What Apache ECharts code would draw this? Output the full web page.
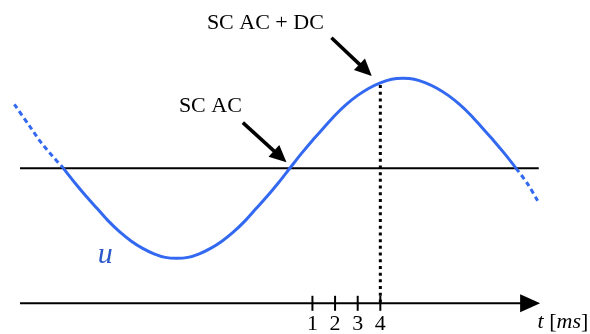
<!DOCTYPE html>
<html>
<head>
<meta charset="utf-8">
<script src="https://cdn.jsdelivr.net/npm/echarts@6/dist/echarts.min.js"></script>
<style>
  html, body { margin: 0; background: #fff; }
  #chart { width: 590px; height: 334px; }
</style>
</head>
<body>
<div id="chart"></div>
<script>
// wave u(t), t in ms
var waveT = [-12.17, -11.5, -11, -10.5, -10, -9.5, -9, -8.5, -8, -7.5, -7, -6.5, -6, -5.5, -5, -4.5, -4, -3.5, -3, -2.5, -2, -1.5, -1, -0.5,
             0, 0.5, 1, 1.5, 2, 2.5, 3, 3.5, 4, 4.5, 5, 5.5, 6, 6.5, 7, 7.5, 8, 8.5, 9, 9.5, 10, 10.5, 10.95];
var waveU = [0.71, 0.47, 0.29, 0.14, 0, -0.16, -0.31, -0.45, -0.59, -0.71, -0.81, -0.89, -0.95, -0.99, -1.0, -0.99, -0.95, -0.89, -0.81, -0.71, -0.59, -0.45, -0.31, -0.16,
             0, 0.16, 0.31, 0.45, 0.59, 0.71, 0.81, 0.89, 0.95, 0.99, 1.0, 0.99, 0.95, 0.89, 0.81, 0.71, 0.59, 0.45, 0.31, 0.16, 0, -0.17, -0.36];
var solidFrom = -10, solidTo = 10;

var tickValues = [1, 2, 3, 4];
var tickLabels = ['1', '2', '3', '4'];

var zeroLineT = [-11.92, 11.0];
var timeAxisT = [-11.92, 10.62];   // last one = centre of arrow head
var timeAxisU = -1.5;
var markerT = 4, markerTopU = 0.925;

// annotations: [start, arrow head centre]
var notes = [
  { text: 'SC AC + DC', at: [-1.08, 1.611], from: [1.84, 1.451], to: [3.35, 1.091] },
  { text: 'SC AC', at: [-3.51, 0.692], from: [-2.075, 0.507], to: [-0.424, 0.13] }
];
var waveName = 'u', waveNameAt = [-8.15, -0.96];
var axisTitleAt = [10.95, -1.708];

var blue = '#3269f0';
var ink = '#000';
var serif = 'Liberation Serif';

function pick(lo, hi) {
  var out = [];
  for (var i = 0; i < waveT.length; i++) {
    if (waveT[i] >= lo && waveT[i] <= hi) out.push([waveT[i], waveU[i]]);
  }
  return out;
}

var chart = echarts.init(document.getElementById('chart'));
var series = [];

// zero line
series.push({
  type: 'line', data: [[zeroLineT[0], 0], [zeroLineT[1], 0]], symbol: 'none', clip: false,
  lineStyle: { color: ink, width: 2 }, z: 1
});
// time axis
series.push({
  type: 'line', data: [[timeAxisT[0], timeAxisU], [timeAxisT[1], timeAxisU]], symbol: 'none', clip: false,
  lineStyle: { color: ink, width: 2 }, z: 1
});
series.push({
  type: 'scatter', data: [[timeAxisT[1], timeAxisU]], symbol: 'triangle', symbolSize: [18, 20],
  symbolRotate: -90, itemStyle: { color: ink, opacity: 1 }, clip: false, z: 2
});
// ticks with labels
series.push({
  type: 'scatter', data: tickValues.map(function (v) { return [v, timeAxisU]; }),
  symbol: 'rect', symbolSize: [2, 15], itemStyle: { color: ink, opacity: 1 }, clip: false, z: 2,
  label: {
    show: true, position: 'bottom', distance: 2,
    formatter: function (p) { return tickLabels[p.dataIndex]; },
    fontFamily: serif, fontSize: 22, color: ink
  }
});
// dotted marker at t = 4
series.push({
  type: 'line', data: [[markerT, markerTopU], [markerT, timeAxisU]], symbol: 'none', clip: false,
  lineStyle: { color: ink, width: 3, type: [3, 3.7] }, z: 1
});
// wave (smooth 1/3 ~ catmull-rom tangents)
var waveLine = { type: 'line', smooth: 0.33, symbol: 'none', clip: false, z: 3 };
series.push(Object.assign({}, waveLine, {
  data: pick(solidFrom, solidTo), lineStyle: { color: blue, width: 3 }
}));
series.push(Object.assign({}, waveLine, {
  data: pick(-99, solidFrom), lineStyle: { color: blue, width: 3, type: [5, 3.5] }
}));
series.push(Object.assign({}, waveLine, {
  data: pick(solidTo, 99), lineStyle: { color: blue, width: 3, type: [5, 3.5] }
}));

// annotation texts + arrows
series.push({
  type: 'scatter', clip: false, symbolSize: 1, itemStyle: { color: 'transparent', opacity: 1 },
  data: notes.map(function (n) { return { value: n.at, name: n.text }; }),
  label: {
    show: true, position: 'inside', formatter: '{b}',
    fontFamily: serif, fontSize: 22, color: ink
  },
  markLine: {
    silent: true, symbol: ['none', 'triangle'], symbolSize: [16, 17],
    label: { show: false },
    lineStyle: { color: ink, width: 3.5, type: 'solid', opacity: 1 },
    itemStyle: { color: ink, opacity: 1 },
    data: notes.map(function (n) { return [{ coord: n.from }, { coord: n.to }]; })
  },
  z: 4
});
// u label and axis title
series.push({
  type: 'scatter', clip: false, symbolSize: 1, itemStyle: { color: 'transparent', opacity: 1 },
  data: [{ value: waveNameAt, name: waveName }],
  label: {
    show: true, position: 'inside', formatter: '{b}',
    fontFamily: serif, fontStyle: 'italic', fontSize: 30, color: '#2b58c8'
  }, z: 4
});
series.push({
  type: 'scatter', clip: false, symbolSize: 1, itemStyle: { color: 'transparent', opacity: 1 },
  data: [{ value: axisTitleAt, name: 't' }],
  label: {
    show: true, position: 'inside', align: 'left', formatter: '{i|t} [{i|ms}]',
    fontFamily: serif, fontSize: 22, color: ink,
    rich: { i: { fontFamily: serif, fontStyle: 'italic', fontSize: 22, color: ink } }
  }, z: 4
});

chart.setOption({
  animation: false,
  grid: { left: 6.9, right: 17.3, top: 24.3, bottom: 21.7 },
  xAxis: { type: 'value', min: -12.5, max: 12.5, show: false },
  yAxis: { type: 'value', min: -1.6, max: 1.6, show: false },
  series: series
});
</script>
</body>
</html>
